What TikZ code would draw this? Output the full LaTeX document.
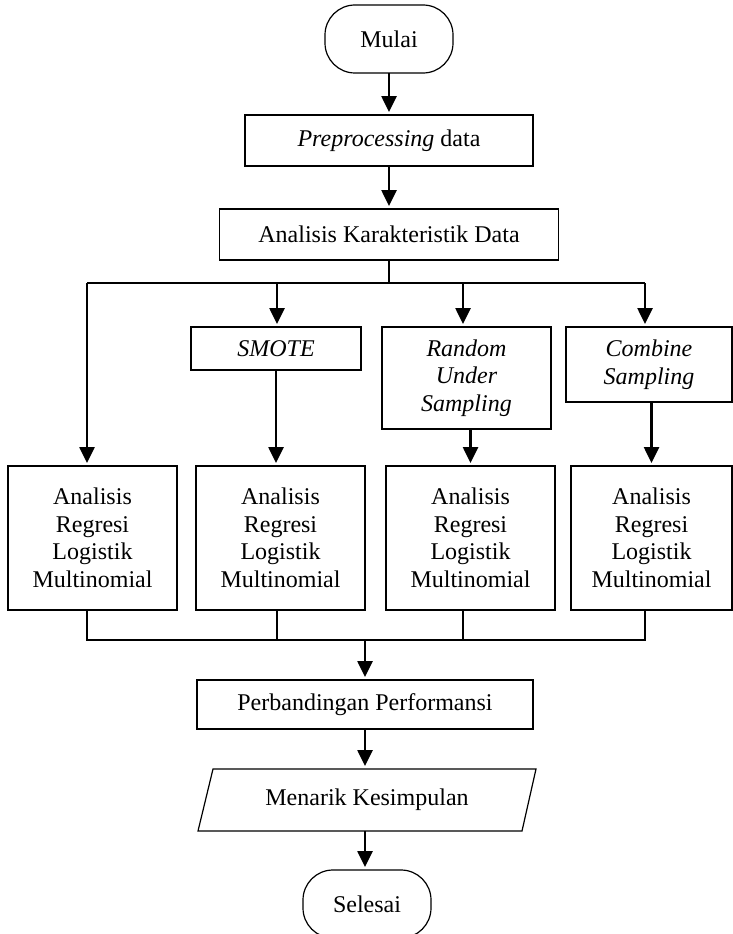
\documentclass[tikz,border=0pt]{standalone}
\usepackage{fontspec}
\setmainfont{Liberation Serif}
\usetikzlibrary{arrows.meta}
\begin{document}
\begin{tikzpicture}[x=1pt,y=-1pt,
  every node/.style={font=\fontsize{24}{27.5}\selectfont, outer sep=0pt, inner sep=0pt, align=center},
  box/.style={draw, line width=1.2pt, rectangle},
  term/.style={draw, line width=1.2pt, rounded corners=30pt, minimum width=128pt, minimum height=68pt},
  arr/.style={line width=2.6pt, -{Triangle[width=15pt,length=16pt]}, shorten >=3pt},
  conn/.style={line width=1.1pt},
]
\useasboundingbox (0,0) rectangle (733,934);
\clip (0,0) rectangle (733,934);
% nodes
\node[term] (mulai) at (389,39) {Mulai};
\node[box, minimum width=288pt, minimum height=51pt] (pre) at (389,140.5) {\textit{Preprocessing} data};
\node[box, minimum width=339pt, minimum height=51pt] (kar) at (389,234.5) {Analisis Karakteristik Data};
\node[box, minimum width=170pt, minimum height=43pt] (smote) at (276,348.5) {\textit{SMOTE}};
\node[box, minimum width=169pt, minimum height=102pt] (random) at (466.5,378) {\textit{Random}\\\textit{Under}\\\textit{Sampling}};
\node[box, minimum width=166pt, minimum height=75pt] (combine) at (649,364.5) {\textit{Combine}\\\textit{Sampling}};
\node[box, minimum width=169pt, minimum height=144pt] (r1) at (92.5,538) {Analisis\\Regresi\\Logistik\\Multinomial};
\node[box, minimum width=169pt, minimum height=144pt] (r2) at (280.5,538) {Analisis\\Regresi\\Logistik\\Multinomial};
\node[box, minimum width=169pt, minimum height=144pt] (r3) at (470.5,538) {Analisis\\Regresi\\Logistik\\Multinomial};
\node[box, minimum width=161pt, minimum height=144pt] (r4) at (651.5,538) {Analisis\\Regresi\\Logistik\\Multinomial};
\node[box, minimum width=336pt, minimum height=49pt] (perb) at (365,704.5) {Perbandingan Performansi};
\node[minimum width=338pt, minimum height=62pt] (conc) at (367,800) {Menarik Kesimpulan};
\draw[line width=1.2pt] ([xshift=15pt]conc.north west) -- (conc.north east) -- ([xshift=-14pt]conc.south east) -- (conc.south west) -- cycle;
\node[term] (sel) at (367,904) {Selesai};
% coordinates
\coordinate (split) at (389,283);
\coordinate (b1) at (87,283);
\coordinate (b2) at (277,283);
\coordinate (b3) at (463,283);
\coordinate (b4) at (645,283);
\coordinate (m1) at (87,640);
\coordinate (m4) at (645,640);
\coordinate (mc) at (365,640);
% connectors
\draw[arr] (mulai) -- (pre);
\draw[arr] (pre) -- (kar);
\draw[conn] (kar.south) -- (split);
\draw[conn] (b1) -- (b4);
\draw[arr] (b1) -- (b1 |- r1.north);
\draw[arr] (b2) -- (b2 |- smote.north);
\draw[arr] (b3) -- (b3 |- random.north);
\draw[arr] (b4) -- (b4 |- combine.north);
\draw[arr] (smote.south) -- (smote.south |- r2.north);
\draw[arr] (r3.north |- random.south) -- (r3.north);
\draw[arr] (r4.north |- combine.south) -- (r4.north);
\draw[conn] (b1 |- r1.south) -- (m1) -- (m4) -- (b4 |- r4.south);
\draw[conn] (b2 |- r2.south) -- (b2 |- m1);
\draw[conn] (b3 |- r3.south) -- (b3 |- m1);
\draw[arr] (mc) -- (perb.north);
\draw[arr] (perb.south) -- (perb.south |- conc.north);
\draw[arr] (perb.south |- conc.south) -- (perb.south |- sel.north);
\end{tikzpicture}
\end{document}
